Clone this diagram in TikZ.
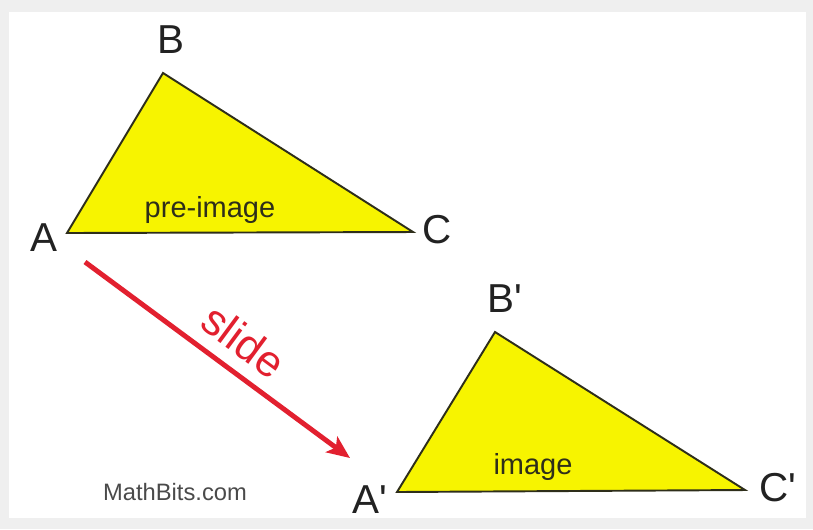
\documentclass[tikz,border=0pt]{standalone}
\usepackage{fontspec}
\setmainfont{Liberation Sans}[Ligatures=TeXOff]
\usepackage{xcolor}
\usetikzlibrary{arrows.meta, positioning}
\definecolor{mbyellow}{HTML}{F7F400}
\definecolor{mbred}{HTML}{E2202F}
\definecolor{mbedge}{HTML}{2E2E1A}
\definecolor{mbink}{HTML}{222222}
\definecolor{mbgray}{HTML}{4A4A4A}
\definecolor{mbframe}{HTML}{EFEFEF}

\begin{document}
\begin{tikzpicture}[
  x=0.02cm, y=-0.02cm,
  >={Stealth[length=13pt, width=11pt, inset=3pt]},
  tri/.style={draw=mbedge, line width=1.1pt, fill=mbyellow, line join=miter},
  vertex/.style={font=\fontsize{23}{25}\selectfont, text=mbink, inner sep=0pt},
  inside/.style={font=\fontsize{16.5}{18}\selectfont, text=mbedge, inner sep=0pt},
  slidearrow/.style={->, draw=mbred, line width=2.8pt}
]

%% ── FRAME ───────────────────────────────────────────────────────
\fill[mbframe] (0,0) rectangle (813,529);
\fill[white] (9,12) rectangle (806,518);

%% ── PRE-IMAGE ABC ───────────────────────────────────────────────
\coordinate (A) at (67,233);
\coordinate (B) at (163,73);
\coordinate (C) at (413,232);
\draw[tri] (A) -- (B) -- (C) -- cycle;
\node[inside] (preimage) at (210,210) {pre-image};
\node[vertex] (labA) at (44,238) {A};
\node[vertex] (labB) at (171,40) {B};
\node[vertex] (labC) at (437,230) {C};

%% ── IMAGE A'B'C' ────────────────────────────────────────────────
\coordinate (Ap) at (397,492);
\coordinate (Bp) at (495,332);
\coordinate (Cp) at (745,490);
\draw[tri] (Ap) -- (Bp) -- (Cp) -- cycle;
\node[inside] (image) at (533,467) {image};
\node[vertex] (labAp) at (370,500) {A'};
\node[vertex] (labBp) at (505,299) {B'};
\node[vertex] (labCp) at (778,488) {C'};

%% ── SLIDE ARROW ─────────────────────────────────────────────────
\coordinate (slidefrom) at (85,262);
\coordinate (slideto) at (350,458);
\draw[slidearrow] (slidefrom) -- (slideto)
  node[pos=0.53, sloped, above=7pt, inner sep=0pt, text=mbred,
       font=\fontsize{25}{27}\selectfont] (slidelabel) {slide};

%% ── CREDIT ──────────────────────────────────────────────────────
\node[font=\fontsize{13.5}{15}\selectfont, text=mbgray] (credit)
  at (175,492) {MathBits.com};

\end{tikzpicture}
\end{document}
